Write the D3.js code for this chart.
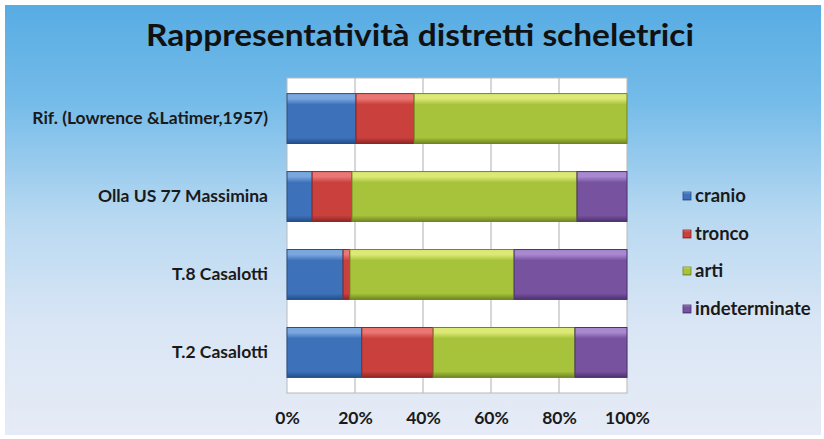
<!DOCTYPE html>
<html>
<head>
<meta charset="utf-8">
<script src="https://cdn.jsdelivr.net/npm/d3@7"></script>
<style>
  html, body { margin: 0; padding: 0; background: #ffffff; }
  svg { display: block; }
</style>
</head>
<body>
<svg id="chart" width="824" height="439"></svg>
<script>
// Skeletal districts, percentage share per sample
const categories = ["Rif. (Lowrence &Latimer,1957)", "Olla US 77 Massimina", "T.8 Casalotti", "T.2 Casalotti"];
const seriesNames = ["cranio", "tronco", "arti", "indeterminate"];
const cranio        = [20.3, 7.4, 16.5, 22.0];
const tronco        = [17.1, 11.7, 2.0, 21.0];
const arti          = [62.6, 66.2, 48.3, 41.7];
const indeterminate = [0.0, 14.7, 33.2, 15.3];
const tickValues = [0, 20, 40, 60, 80, 100];
const tickLabels = ["0%", "20%", "40%", "60%", "80%", "100%"];

const colors = {
  cranio:        { base: "#3d72bb", light: "#7aa8de", dark: "#234f8a" },
  tronco:        { base: "#c9403d", light: "#ea7773", dark: "#8e2726" },
  arti:          { base: "#a7c23b", light: "#dde975", dark: "#6f8722" },
  indeterminate: { base: "#76529f", light: "#a888cf", dark: "#4d3270" }
};

const rows = categories.map((c, i) => ({
  cat: c,
  cranio: cranio[i], tronco: tronco[i], arti: arti[i], indeterminate: indeterminate[i]
}));

const svg = d3.select("#chart");
const W = 824, H = 439;
const defs = svg.append("defs");
const FONT = "Lato, 'Open Sans', sans-serif";

// panel background: blue at the top fading to a pale grey-blue
const bg = defs.append("linearGradient").attr("id", "bg").attr("x1", 0).attr("y1", 0).attr("x2", 0).attr("y2", 1);
bg.append("stop").attr("offset", "0%").attr("stop-color", "#57ace3");
bg.append("stop").attr("offset", "22%").attr("stop-color", "#74bbe9");
bg.append("stop").attr("offset", "50%").attr("stop-color", "#b9d9f1");
bg.append("stop").attr("offset", "75%").attr("stop-color", "#dae6f5");
bg.append("stop").attr("offset", "100%").attr("stop-color", "#e6ebf6");

svg.append("rect").attr("x", 5).attr("y", 5).attr("width", W - 8).attr("height", H - 9).attr("fill", "url(#bg)");

// bevelled fills for the bar segments
seriesNames.forEach(name => {
  const c = colors[name];
  const g = defs.append("linearGradient").attr("id", "g-" + name).attr("x1", 0).attr("y1", 0).attr("x2", 0).attr("y2", 1);
  g.append("stop").attr("offset", "0%").attr("stop-color", c.light);
  g.append("stop").attr("offset", "10%").attr("stop-color", c.light);
  g.append("stop").attr("offset", "22%").attr("stop-color", c.base);
  g.append("stop").attr("offset", "88%").attr("stop-color", c.base);
  g.append("stop").attr("offset", "100%").attr("stop-color", c.dark);
});

const plot = { left: 287, right: 627, top: 78, bottom: 393 };

const x = d3.scaleLinear().domain([0, 100]).range([plot.left, plot.right]);
const y = d3.scaleBand().domain(categories).range([plot.top, plot.bottom]).paddingInner(0.36).paddingOuter(0.2);

// plot area
svg.append("rect")
  .attr("x", plot.left).attr("y", plot.top)
  .attr("width", plot.right - plot.left).attr("height", plot.bottom - plot.top)
  .attr("fill", "#ffffff").attr("stroke", "#b9b9b9").attr("stroke-width", 1);

// vertical gridlines
svg.append("g").selectAll("line").data(tickValues.slice(1, -1)).join("line")
  .attr("x1", d => x(d)).attr("x2", d => x(d))
  .attr("y1", plot.top).attr("y2", plot.bottom)
  .attr("stroke", "#bdbdbd").attr("stroke-width", 1.2);

// stacked bars
const stack = d3.stack().keys(seriesNames);
const layers = stack(rows);

const gBars = svg.append("g");
layers.forEach(layer => {
  const name = layer.key;
  gBars.append("g").selectAll("rect").data(layer.filter(d => d[1] - d[0] > 0)).join("rect")
    .attr("x", d => x(d[0]))
    .attr("y", d => y(d.data.cat))
    .attr("width", d => x(d[1]) - x(d[0]))
    .attr("height", y.bandwidth())
    .attr("fill", "url(#g-" + name + ")")
    .attr("stroke", colors[name].dark)
    .attr("stroke-width", 1);
});

// x axis labels
const xAxis = d3.axisBottom(x).tickValues(tickValues).tickFormat((d, i) => tickLabels[i]).tickSize(0).tickPadding(0);
const gx = svg.append("g").attr("transform", `translate(0,${plot.bottom + 19})`).call(xAxis);
gx.select(".domain").remove();
gx.selectAll("text")
  .attr("font-family", FONT)
  .attr("font-weight", "bold").attr("font-size", 17.5).attr("fill", "#1a1a1a");

// category labels
const yAxis = d3.axisLeft(y).tickSize(0).tickPadding(19);
const gy = svg.append("g").attr("transform", `translate(${plot.left},0)`).call(yAxis);
gy.select(".domain").remove();
gy.selectAll("text")
  .attr("font-family", FONT)
  .attr("font-weight", "bold").attr("font-size", 17.5).attr("fill", "#1a1a1a");

// title
svg.append("text")
  .attr("x", 420).attr("y", 46)
  .attr("text-anchor", "middle")
  .attr("font-family", FONT)
  .attr("font-weight", "bold").attr("font-size", 31).attr("fill", "#111111")
  .attr("textLength", 548).attr("lengthAdjust", "spacingAndGlyphs")
  .text("Rappresentatività distretti scheletrici");

// legend
const legendY = [196, 234, 271, 309];
const gl = svg.append("g");
seriesNames.forEach((name, i) => {
  const g = gl.append("g").attr("transform", `translate(683,${legendY[i]})`);
  g.append("rect").attr("x", 0).attr("y", -4).attr("width", 8).attr("height", 8)
    .attr("fill", "url(#g-" + name + ")").attr("stroke", colors[name].dark).attr("stroke-width", 0.8);
  g.append("text").attr("x", 12).attr("y", 6)
    .attr("font-family", FONT)
    .attr("font-weight", "bold").attr("font-size", 18.5).attr("fill", "#1a1a1a")
    .text(name);
});
</script>
</body>
</html>
